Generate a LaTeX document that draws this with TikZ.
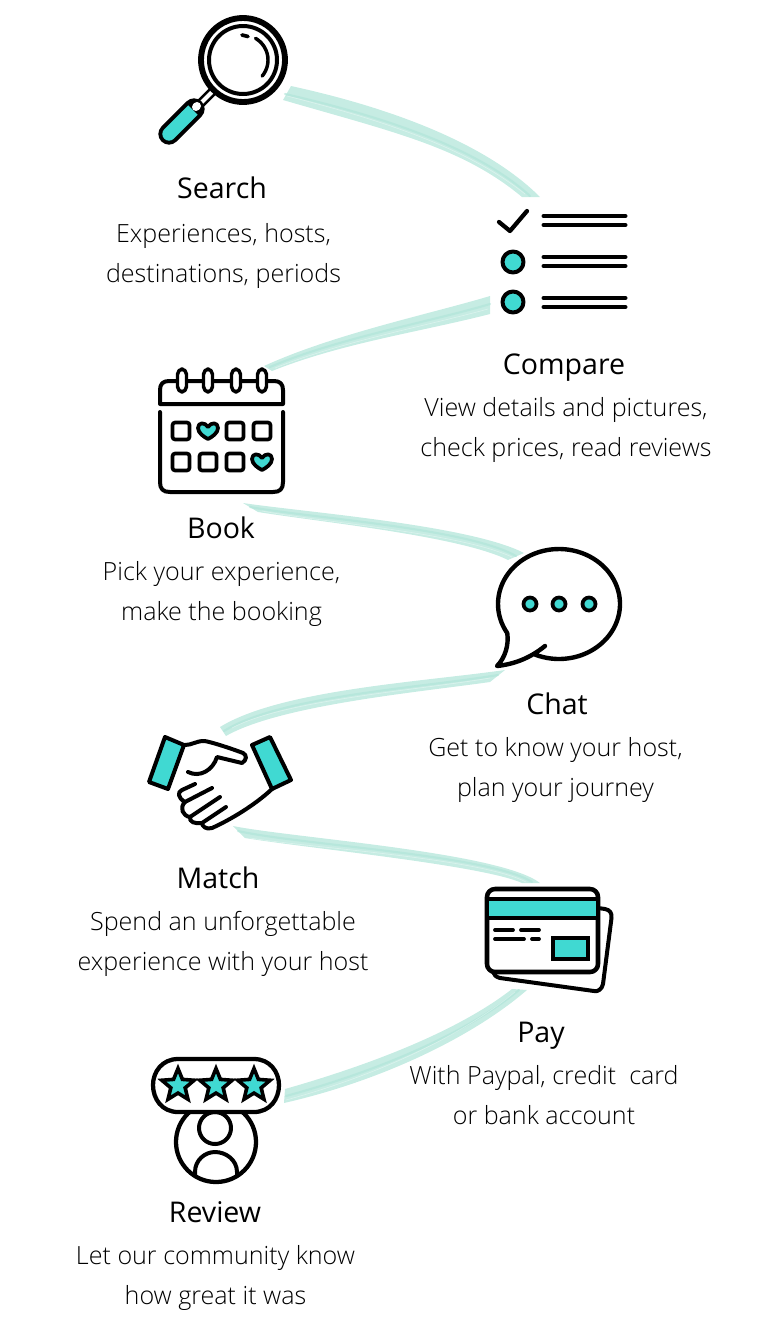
\documentclass[tikz,border=0pt]{standalone}
\usepackage{fontspec}
\usetikzlibrary{shapes.geometric}
\setmainfont{Open Sans}
\newfontfamily\titlefont{Open Sans}
\newfontfamily\bodyfont{Open Sans Light}
\definecolor{tealfill}{HTML}{40D9D2}
\definecolor{brushbase}{HTML}{C6ECE3}
\definecolor{brushdark}{HTML}{B2E5DA}
\tikzset{
  x=0.75pt,y=-0.75pt,
  title/.style={font=\titlefont\fontsize{21.4}{30}\selectfont,inner sep=0pt,anchor=base,text=black},
  body/.style={font=\bodyfont\fontsize{18.8}{30}\selectfont,inner sep=0pt,anchor=base,align=center,text=black},
  ink/.style={draw=black,line width=3pt,line cap=round,line join=round},
  thinink/.style={draw=black,line width=2.8pt,line cap=round,line join=round},
  brush/.style={fill=brushbase,draw=none},
  streak/.style={draw=brushdark,line width=1.6pt,line cap=round,opacity=.7},
  streaklight/.style={draw=white,line width=.5pt,line cap=round,opacity=.35},
  starn/.style={star,star points=5,star point ratio=2.25,draw=black,fill=tealfill,line width=2.7pt,line join=miter,minimum size=25.5pt,inner sep=0pt},
}
\newcommand{\heartat}[2]{\draw[thinink,fill=tealfill,shift={(#1,#2)}] (0,8) .. controls (-4,6) and (-10,2) .. (-10,-3) .. controls (-10,-9) and (-3,-9) .. (0,-4) .. controls (3,-9) and (10,-9) .. (10,-3) .. controls (10,2) and (4,6) .. (0,8) -- cycle;}
\begin{document}
\begin{tikzpicture}
\useasboundingbox (0,0) rectangle (770,1332);
% brush strokes
\coordinate (b1a) at (291,86);\coordinate (b1b) at (540,197);\coordinate (b1c) at (522,197);\coordinate (b1d) at (283,100);
\coordinate (b2a) at (490,296);\coordinate (b2b) at (264,366);\coordinate (b2c) at (272,371);\coordinate (b2d) at (490,314);
\coordinate (b3a) at (243,503);\coordinate (b3b) at (524,553);\coordinate (b3c) at (508,560);\coordinate (b3d) at (258,512);
\coordinate (b4a) at (505,670);\coordinate (b4b) at (220,727);\coordinate (b4c) at (226,736);\coordinate (b4d) at (490,682);
\coordinate (b5a) at (233,826);\coordinate (b5b) at (540,883);\coordinate (b5c) at (522,883);\coordinate (b5d) at (245,838);
\coordinate (b6a) at (512,989);\coordinate (b6b) at (285,1089);\coordinate (b6c) at (284,1103);\coordinate (b6d) at (527,990);
\path[brush] (b1a) .. controls +(110,24) and +(-50,-50) .. (b1b) -- (b1c) .. controls +(-60,-50) and +(110,32) .. (b1d) -- cycle;
\draw[streak] (285,94) .. controls (390,118) and (480,150) .. (530,196);
\draw[streaklight] (287,96) .. controls (390,122) and (470,150) .. (525,194);
\path[brush] (b2a) .. controls +(-60,18) and +(70,-32) .. (b2b) -- (b2c) .. controls +(70,-28) and +(-70,18) .. (b2d) -- cycle;
\draw[streak] (490,304) .. controls (430,322) and (338,338) .. (270,367);
\draw[streaklight] (488,309) .. controls (426,326) and (340,342) .. (275,368);
\path[brush] (b3a) .. controls +(60,9) and +(-54,-28) .. (b3b) -- (b3c) .. controls +(-48,-24) and +(62,10) .. (b3d) -- cycle;
\draw[streak] (250,507) .. controls (310,518) and (466,528) .. (516,556);
\draw[streaklight] (262,511) .. controls (320,522) and (460,533) .. (512,557);
\path[brush] (b4a) .. controls +(-85,12) and +(60,-37) .. (b4b) -- (b4c) .. controls +(54,-31) and +(-70,10) .. (b4d) -- cycle;
\draw[streak] (498,675) .. controls (420,688) and (280,696) .. (224,731);
\draw[streaklight] (490,678) .. controls (420,690) and (284,700) .. (232,728);
\path[brush] (b5a) .. controls +(60,12) and +(-40,-31) .. (b5b) -- (b5c) .. controls +(-40,-18) and +(60,10) .. (b5d) -- cycle;
\draw[streak] (238,831) .. controls (300,845) and (490,855) .. (532,882);
\draw[streaklight] (250,838) .. controls (310,848) and (480,858) .. (526,882);
\path[brush] (b6a) .. controls +(-50,39) and +(95,-27) .. (b6b) -- (b6c) .. controls +(101,-23) and +(-52,45) .. (b6d) -- cycle;
\draw[streak] (519,990) .. controls (468,1032) and (382,1070) .. (286,1096);
\draw[streaklight] (515,992) .. controls (464,1034) and (382,1074) .. (286,1100);
% search icon
\draw[line width=7pt,black] (199,105) -- (215,89);
\draw[line width=3pt,white] (199,105) -- (214,90);
\draw[line width=16pt,line cap=round,black] (169,134) -- (194,109);
\draw[line width=10pt,line cap=round,tealfill] (169,134) -- (186,117);
\draw[line width=10pt,tealfill] (186,117) -- (193,110);
\draw[line width=6pt,line cap=round,white] (196,107) -- (197,106);
\draw[line width=4.4pt,black,fill=white] (243,60) circle (42);
\draw[line width=3pt,black] (243,60) circle (34);
\draw[thinink,line width=2.6pt] plot[domain=-60:40,samples=24] ({243+25*cos(\x)},{60+25*sin(\x)});
\draw[thinink,line width=2.8pt] (242,35) -- (248,36.5);
% check list
\draw[ink,line width=3.2pt] (499,222) -- (510,231) -- (527,211);
\foreach \yy in {216,225,257,266,298,307} \draw[ink] (543.5,\yy) -- (625.5,\yy);
\draw[ink,fill=tealfill] (513,262) circle (10.5);
\draw[ink,fill=tealfill] (513,302) circle (10.5);
% calendar
\draw[ink] (160,404) -- (160,390) .. controls (160,384) and (163,381) .. (169,381) -- (274,381) .. controls (280,381) and (283,384) .. (283,390) -- (283,404) -- cycle;
\draw[ink] (160,412) -- (160,482) .. controls (160,489) and (163,492) .. (170,492) -- (273,492) .. controls (280,492) and (283,489) .. (283,482) -- (283,412);
\foreach \xx in {182,208,236,262} \draw[thinink,line width=2.6pt,fill=white,rounded corners=4pt] (\xx-4.5,369) rectangle (\xx+4.5,392);
\foreach \xx/\yy in {181/431,235/431,262/431,181/462,208/462,235/462} \draw[thinink,rounded corners=2pt] (\xx-8.5,\yy-8.5) rectangle (\xx+8.5,\yy+8.5);
\heartat{208}{431}
\heartat{262}{462}
% chat
\draw[ink,line width=3.3pt] plot[domain=113:-212,samples=80] ({559+61*cos(\x)},{604+55*sin(\x)}) .. controls (509,645) and (505,658) .. (497,666) .. controls (515,664) and (530,658) .. (545,646);
\foreach \xx in {530,559,589} \draw[thinink,fill=tealfill] (\xx,604) circle (6.5);
% handshake
\draw[ink,fill=tealfill] (165,737) -- (184,745) -- (168,789) -- (149,782) -- cycle;
\draw[ink,fill=tealfill] (252,745) -- (270,737) -- (291,780) -- (272,789) -- cycle;
\draw[ink] (185,745) .. controls (192,745) and (196,741) .. (204,741) .. controls (208,741) and (230,748) .. (243,753) .. controls (247,755) and (247,760) .. (242,763) -- (217,757) .. controls (213,770) and (200,778) .. (188,772);
\draw[ink] (272,789) .. controls (255,805) and (230,820) .. (212,828) .. controls (206,830) and (202,826) .. (202,823) .. controls (195,824) and (189,822) .. (190,817) .. controls (183,816) and (179,808) .. (185,802) .. controls (178,798) and (177,792) .. (182,790) -- (195,784);
\draw[ink] (185,802) -- (212,788);
\draw[ink] (190,817) -- (220,797);
\draw[ink] (202,823) -- (226,807);
% card
\draw[ink] (598,908) -- (605,909) .. controls (610,910) and (612,913) .. (611.5,918) -- (603,984) .. controls (602,989) and (598,992) .. (594,991) -- (500,978) .. controls (496,977) and (494,975) .. (493,972);
\draw[ink,line width=3.4pt,fill=white,rounded corners=6pt] (487,889) rectangle (598,972);
\fill[tealfill] (489,900) rectangle (596,917);
\draw[ink,line width=3.4pt,line cap=butt] (487,899) -- (598,899);
\draw[ink,line width=3.4pt,line cap=butt] (487,918) -- (598,918);
\draw[thinink] (495,930) -- (513,930);
\draw[thinink] (521,930) -- (539,930);
\draw[thinink] (495,939) -- (524,939);
\draw[thinink] (532,939) -- (539,939);
\draw[ink,fill=tealfill,line join=miter] (553,938) rectangle (588,959);
% review
\draw[ink,line width=3.2pt] (216,1142) circle (40);
\draw[ink,line width=3pt] (215,1128) circle (16);
\draw[ink,line width=3pt] (195,1176) -- (195,1172) .. controls (195,1160) and (205,1152) .. (215,1152) .. controls (226,1152) and (237,1160) .. (237,1172) -- (237,1176);
\draw[ink,line width=3.2pt,fill=white] (178,1059) -- (254,1059) .. controls (270,1059) and (279,1072) .. (279,1085) .. controls (279,1099) and (270,1112) .. (254,1112) -- (178,1112) .. controls (162,1112) and (153,1099) .. (153,1085) .. controls (153,1072) and (162,1059) .. (178,1059) -- cycle;
\node[starn] (st1) at (178,1085.5) {};
\node[starn] (st2) at (216,1085.5) {};
\node[starn] (st3) at (254,1085.5) {};
% texts
\node[title] (tsearch) at (222,198) {Search};
\node[body] (dsearch) at (223.5,282) {Experiences, hosts,\\destinations, periods};
\node[title] (tcompare) at (564,374) {Compare};
\node[body] (dcompare) at (566,456) {View details and pictures,\\check prices, read reviews};
\node[title] (tbook) at (221,538) {Book};
\node[body] (dbook) at (221.5,620) {Pick your experience,\\make the booking};
\node[title] (tchat) at (557,714) {Chat};
\node[body] (dchat) at (555.5,796) {Get to know your host,\\plan your journey};
\node[title] (tmatch) at (218,888) {Match};
\node[body] (dmatch) at (223,970) {Spend an unforgettable\\experience with your host};
\node[title] (tpay) at (541,1042) {Pay};
\node[body] (dpay) at (544,1124) {With Paypal, credit\ \ card\\or bank account};
\node[title] (treview) at (215,1222) {Review};
\node[body] (dreview) at (215.5,1304) {Let our community know\\how great it was};
\end{tikzpicture}
\end{document}
